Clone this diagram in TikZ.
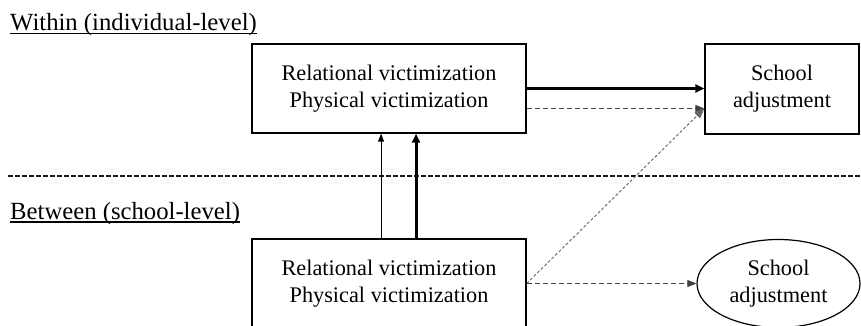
\documentclass[tikz,border=0pt]{standalone}
\usepackage{fontspec}
\setmainfont{Liberation Serif}
\usetikzlibrary{arrows.meta,shapes.geometric}
\begin{document}
\begin{tikzpicture}[x=1pt,y=-1pt,
  boxtext/.style={font=\fontsize{22.3}{27}\selectfont, align=center, text=black},
  varbox/.style={draw, line width=1.3pt, boxtext, inner sep=0pt},
  header/.style={font=\fontsize{24.7}{29}\selectfont, anchor=base west, inner sep=0pt, text=black},
  uline/.style={line width=1.8pt},
  thickarrow/.style={line width=3pt, -{Triangle[length=9pt,width=8pt]}},
  thinarrow/.style={line width=0.9pt, -{Triangle[length=8pt,width=6pt]}},
  dasharrow/.style={line width=1pt, black!75, dash pattern=on 5pt off 3pt, -{Triangle[length=9pt,width=7pt]}},
  dotarrow/.style={line width=0.9pt, black!60, dash pattern=on 3pt off 2pt, -{Triangle[length=10pt,width=8pt]}},
  divider/.style={line width=2.2pt, black!90, dash pattern=on 5pt off 2pt}
]
\useasboundingbox (0,0) rectangle (861,326);

% headers
\node[header] (within) at (10,30.5) {Within (individual-level)};
\draw[uline] ([yshift=-3pt]within.base west) -- ([yshift=-3pt]within.base east);
\node[header] (between) at (10,219) {Between (school-level)};
\draw[uline] ([yshift=-3pt]between.base west) -- ([yshift=-3pt]between.base east);

% divider
\coordinate (dl) at (8,176);
\coordinate (dr) at (861,176);
\draw[divider] (dl) -- (dr);

% boxes
\node[varbox, minimum width=274pt, minimum height=89pt] (top) at (389,88.5)
  {Relational victimization\\Physical victimization};
\node[varbox, minimum width=154pt, minimum height=90pt] (sa) at (782,89)
  {School\\adjustment};
\node[varbox, minimum width=274pt, minimum height=89pt] (bot) at (389,283.5)
  {Relational victimization\\Physical victimization};
\node[draw, ellipse, line width=1.2pt, boxtext, inner sep=0pt, minimum width=163pt, minimum height=88pt] (ell) at (778.5,283.5)
  {School\\adjustment};

% within paths
\draw[thickarrow] (top.east) -- (top.east -| sa.west);
\coordinate (tgt) at ([yshift=-19.5pt]sa.west);
\draw[dasharrow] (top.east |- tgt) -- (tgt);

% between to within
\draw[thinarrow] ([xshift=129.7pt]bot.north west) -- ([xshift=129.7pt]top.south west);
\draw[thickarrow] ([xshift=164.7pt]bot.north west) -- ([xshift=164.7pt]top.south west);
\draw[dotarrow] (bot.east) -- (tgt);

% between path
\draw[dasharrow] (bot.east) -- (ell.west);
\end{tikzpicture}
\end{document}
